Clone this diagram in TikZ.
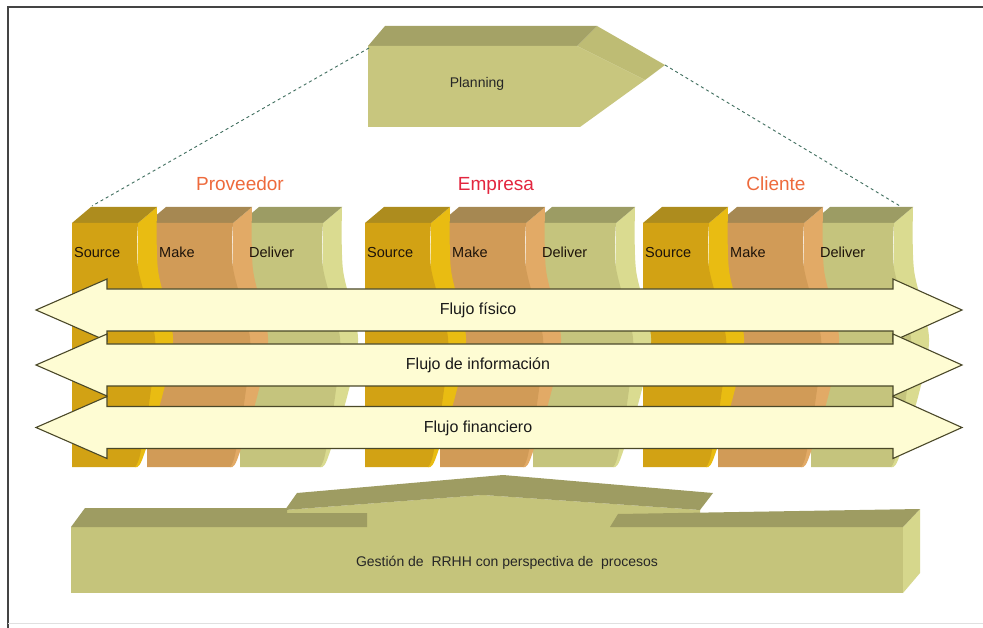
\documentclass[tikz,border=0pt]{standalone}
\usepackage{fontspec}
\setmainfont{Liberation Sans}

% block colours
\definecolor{srcfront}{HTML}{D2A214}
\definecolor{srctop}{HTML}{AD8C1E}
\definecolor{srcside}{HTML}{E9BC12}
\definecolor{makefront}{HTML}{D19B57}
\definecolor{maketop}{HTML}{A68852}
\definecolor{makeside}{HTML}{E2AA66}
\definecolor{delfront}{HTML}{C5C47D}
\definecolor{deltop}{HTML}{9C9C64}
\definecolor{delside}{HTML}{DADB90}
\definecolor{planfront}{HTML}{C8C67E}
\definecolor{plantop}{HTML}{A4A266}
\definecolor{planside}{HTML}{BEBC74}
\definecolor{basefront}{HTML}{C5C47B}
\definecolor{basetop}{HTML}{9E9C62}
\definecolor{baseside}{HTML}{D6D78C}
\definecolor{flowfill}{HTML}{FEFCD3}
\definecolor{flowline}{HTML}{4A4828}
\definecolor{linkdash}{HTML}{3F6E5E}
\definecolor{partyorange}{HTML}{EE6A3C}
\definecolor{partyred}{HTML}{E3263F}
\definecolor{framecol}{HTML}{444444}

% one 3-D box of a supply-chain stage: #1 left, #2 right of the front face
\newcommand\stageblock[5]{%
  \fill[#5] (#2,223) -- (#2+19,207)
    -- plot[smooth] coordinates {(#2+19,207) (#2+20,270) (#2+35,338) (#2+24,397) (#2+4,460) (#2-3,467)}
    -- (#2-3,467) -- cycle;
  \fill[#4] (#1,223) -- (#1+19,207) -- (#2+19,207) -- (#2,223) -- cycle;
  \fill[#3] (#1,467) -- (#1,223)
    -- plot[smooth] coordinates {(#2,223) (#2,268) (#2+17,338) (#2+12,397) (#2+2,455) (#2-3,467)}
    -- cycle;
}

% Source / Make / Deliver of one party; #1 x offset, #2 name prefix
\newcommand\stagegroup[2]{%
  \stageblock{#1+168}{#1+251}{delfront}{deltop}{delside}
  \stageblock{#1+75}{#1+161}{makefront}{maketop}{makeside}
  \stageblock{#1}{#1+66}{srcfront}{srctop}{srcside}
  \node[stagelabel] (#2src) at (#1+2,258) {Source};
  \node[stagelabel] (#2make) at (#1+87,258) {Make};
  \node[stagelabel] (#2del) at (#1+177,258) {Deliver};
}

% double-headed flow band; #1 centre y, #2 name, #3 text
\newcommand\flowband[3]{%
  \draw[flowband] (36,#1) -- (107,#1-31) -- (107,#1-21) -- (893,#1-21)
    -- (893,#1-31) -- (962,#1) -- (893,#1+31) -- (893,#1+21)
    -- (107,#1+21) -- (107,#1+31) -- cycle;
  \node[flowtext] (#2) at (478,#1+4.5) {#3};
}

\begin{document}
\begin{tikzpicture}[x=1pt,y=-1pt,
  stagelabel/.style={anchor=base west,inner sep=0pt,text=black!85!brown,
    font=\fontsize{14.5}{16}\selectfont},
  flowtext/.style={anchor=base,inner sep=0pt,text=black!90,
    font=\fontsize{16}{18}\selectfont},
  party/.style={anchor=base,inner sep=0pt,font=\fontsize{19}{21}\selectfont},
  flowband/.style={fill=flowfill,draw=flowline,line width=1.1pt,line join=miter},
  linkline/.style={draw=linkdash,dashed,line width=0.9pt}]

\useasboundingbox (0,0) rectangle (983,628);
\fill[white] (0,0) rectangle (983,628);

% page frame
\draw[framecol,line width=1.6pt] (8,630) -- (8,7) -- (986,7);
\draw[black!12,line width=0.8pt] (8,623.5) -- (986,623.5);

% planning block
\fill[planside] (577,46) -- (597,26) -- (665,65) -- (645,80) -- cycle;
\fill[plantop] (368,46) -- (385,26) -- (597,26) -- (577,46) -- cycle;
\fill[planfront] (368,46) -- (577,46) -- (645,80) -- (580,127) -- (368,127) -- cycle;
\node[anchor=base,inner sep=0pt,font=\fontsize{14}{16}\selectfont,text=black!85]
  (planning) at (477,88) {Planning};

% dashed links from planning to the chain
\coordinate (planL) at (369,48);
\coordinate (planR) at (665,65);
\coordinate (chainL) at (92,206);
\coordinate (chainR) at (900,206);
\draw[linkline] (planL) -- (chainL);
\draw[linkline] (planR) -- (chainR);

% parties
\node[party,text=partyorange] (proveedor) at (240,191) {Proveedor};
\node[party,text=partyred] (empresa) at (496,191) {Empresa};
\node[party,text=partyorange] (cliente) at (776,191) {Cliente};

% stage blocks, right party first
\stagegroup{643}{cli}
\stagegroup{365}{emp}
\stagegroup{72}{prov}

% flows
\flowband{310}{fisico}{Flujo físico}
\flowband{365}{info}{Flujo de información}
\flowband{427.5}{fin}{Flujo financiero}

% HR platform
\fill[baseside] (903,527) -- (920,509) -- (920,573) -- (903,593) -- cycle;
\fill[basefront] (71,527) rectangle (903,593);
\fill[basefront] (285,510) -- (483,495) -- (700,510) -- (700,527) -- (285,527) -- cycle;
\fill[basetop] (285,510) -- (297,493) -- (503,475) -- (713,493) -- (700,510) -- (483,495) -- cycle;
\fill[basetop] (71,527) -- (85,508) -- (287,508) -- (287,513) -- (367,513) -- (367,527) -- cycle;
\fill[basetop] (610,527) -- (618,514) -- (920,509) -- (903,527) -- cycle;
\node[anchor=base,inner sep=0pt,font=\fontsize{14}{16}\selectfont,text=black!85]
  (rrhh) at (507,566) {Gestión de\ \ RRHH con perspectiva de\ \ procesos};

\end{tikzpicture}
\end{document}
